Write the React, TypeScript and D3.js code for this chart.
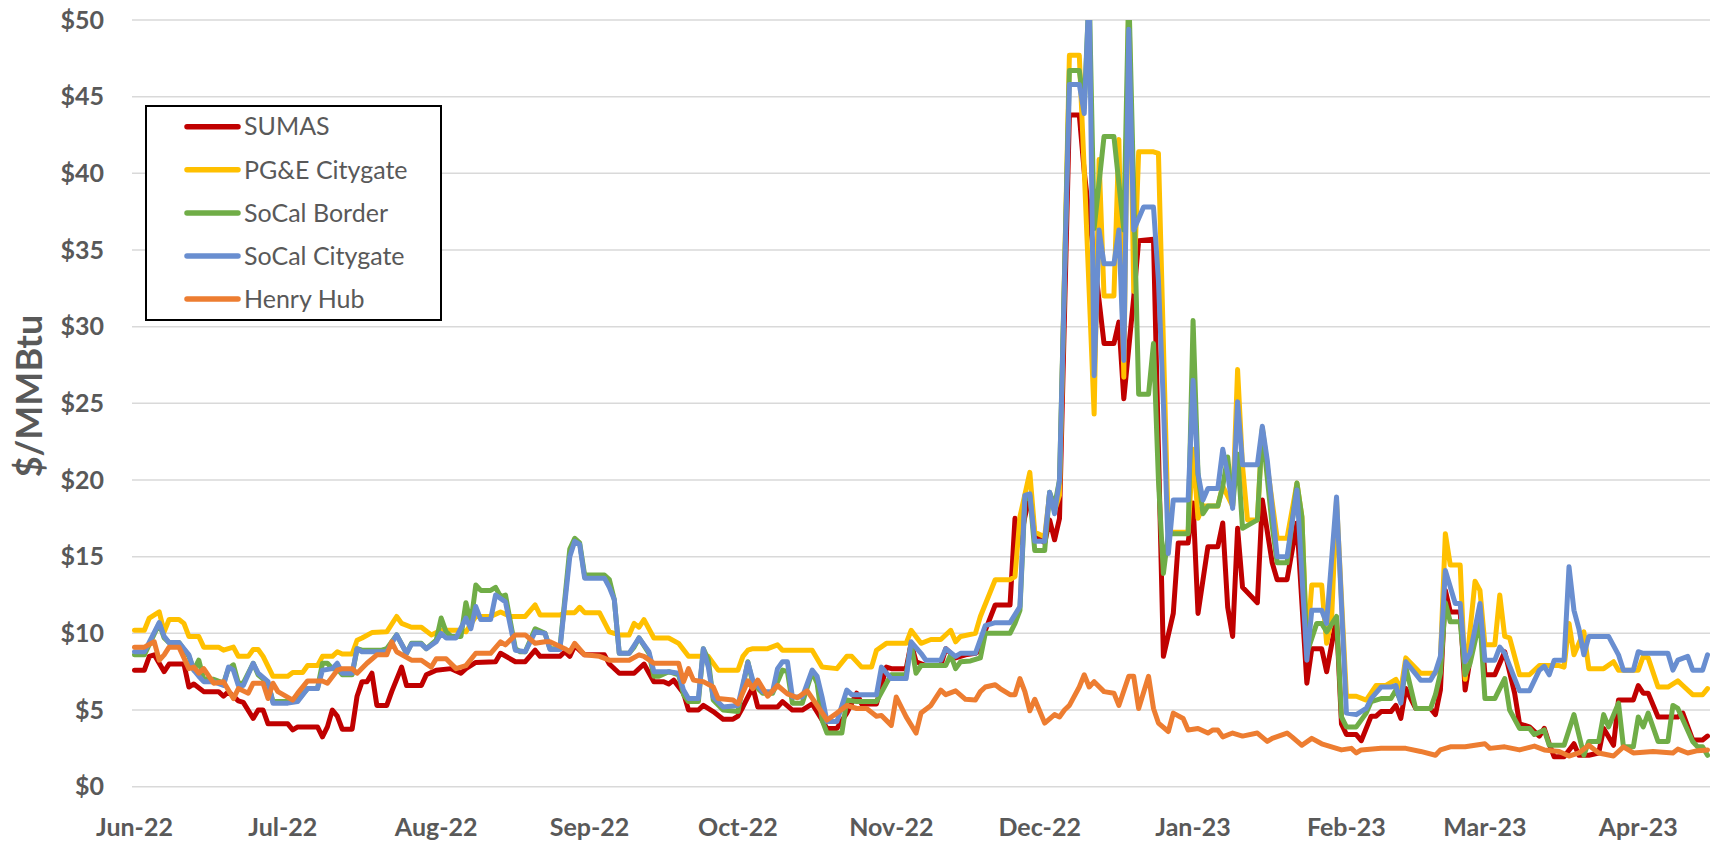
import React, { useEffect, useRef } from 'react';
import * as d3 from 'd3';

// day offset from 1 Jun 2022, $/MMBtu
const sumas: [number, number][] = [[0,7.6],[2,7.6],[3,8.5],[4,8.6],[6,7.5],[7,8.0],[10,8.0],[11,6.5],[12,6.7],[14,6.2],[17,6.2],[18,5.9],[19,6.2],[21,5.6],[22,5.5],[24,4.45],[25,5.0],[26,5.0],[27,4.1],[31,4.1],[32,3.7],[33,3.9],[37,3.9],[38,3.25],[39,3.9],[40,5.0],[41,4.6],[42,3.75],[44,3.75],[45,5.9],[46,6.85],[47,6.85],[48,7.4],[49,5.3],[51,5.3],[52,6.2],[54,7.8],[55,6.6],[58,6.6],[59,7.3],[61,7.6],[64,7.7],[66,7.4],[67,7.7],[69,8.1],[73,8.15],[74,8.7],[77,8.15],[79,8.15],[81,8.9],[82,8.5],[86,8.5],[87,8.8],[88,8.5],[89,9.2],[91,8.6],[95,8.6],[96,8.0],[98,7.4],[101,7.4],[103,8.0],[105,6.85],[107,6.85],[108,6.7],[109,6.95],[111,6.1],[112,5.0],[114,5.0],[115,5.3],[117,4.9],[119,4.4],[121,4.4],[122,4.6],[123,5.2],[125,6.5],[126,5.2],[130,5.2],[131,5.55],[133,5.0],[135,5.0],[137,5.4],[139,4.35],[140,3.8],[142,3.8],[144,4.8],[146,6.1],[147,5.4],[150,5.4],[152,7.8],[153,7.7],[156,7.7],[157,9.35],[158,8.15],[160,7.9],[163,7.9],[164,9.0],[166,8.4],[168,8.6],[170,8.7],[171,8.9],[172,10.2],[174,11.85],[177,11.85],[178,17.5],[179,15.9],[180,17.6],[181,19.0],[182,16.4],[184,15.9],[185,17.4],[186,16.1],[187,17.5],[189,43.8],[191,43.8],[192,40.1],[196,28.9],[198,28.9],[199,30.3],[200,25.3],[202,31.9],[203,35.6],[206,35.7],[207,22],[208,8.5],[210,11.3],[211,15.9],[213,15.9],[214,18.5],[215,11.3],[217,15.65],[219,15.65],[220,17.2],[221,11.7],[222,9.8],[223,16.85],[224,13.0],[227,12.0],[228,18.7],[230,14.6],[231,13.5],[233,13.5],[235,17.2],[237,6.75],[238,9.0],[240,9.0],[241,7.5],[243,11.0],[244,4.1],[245,3.4],[247,3.4],[248,3.0],[250,4.6],[251,4.6],[252,4.9],[254,4.9],[255,5.3],[256,4.45],[257,6.4],[259,5.1],[262,5.1],[263,4.7],[264,6.3],[265,12.8],[266,11.4],[268,11.4],[269,6.3],[270,8.3],[272,11.7],[273,7.3],[275,7.3],[277,8.8],[279,6.1],[280,4.1],[282,3.9],[284,3.3],[285,3.8],[286,2.8],[287,1.95],[289,1.95],[291,2.8],[292,2.05],[294,2.05],[296,2.2],[297,3.8],[299,2.7],[300,5.65],[303,5.65],[304,6.6],[305,6.1],[306,6.1],[308,4.55],[312,4.55],[313,4.8],[315,3.05],[317,3.05],[318,3.3]];

const pgeCitygate: [number, number][] = [[0,10.2],[2,10.2],[3,11.0],[5,11.4],[6,10.1],[7,10.9],[9,10.9],[10,10.65],[11,9.8],[13,9.8],[14,9.1],[17,9.1],[18,8.9],[20,9.1],[21,8.5],[23,8.5],[24,8.95],[25,8.95],[26,8.5],[28,7.2],[31,7.2],[32,7.45],[34,7.45],[35,7.9],[37,7.9],[38,8.5],[40,8.5],[41,8.8],[42,8.65],[44,8.65],[45,9.55],[46,9.7],[48,10.05],[51,10.1],[53,11.1],[54,10.65],[56,10.4],[58,10.4],[60,9.9],[62,10.2],[66,10.2],[67,10.1],[69,11.1],[72,11.1],[74,11.4],[76,11.1],[79,11.1],[81,11.85],[82,11.2],[86,11.2],[87,11.35],[89,11.35],[90,11.7],[91,11.35],[94,11.35],[96,10.1],[98,9.9],[100,9.9],[101,10.65],[102,10.4],[103,10.9],[105,9.7],[108,9.7],[110,9.35],[112,8.5],[116,8.5],[118,7.6],[122,7.6],[123,8.5],[124,8.9],[125,9.0],[128,9.0],[130,9.25],[131,8.9],[137,8.9],[139,7.8],[142,7.7],[144,8.5],[145,8.5],[147,7.8],[149,7.8],[150,8.9],[152,9.35],[156,9.35],[157,10.2],[159,9.35],[161,9.6],[163,9.6],[165,10.2],[166,9.45],[167,9.8],[170,10.0],[171,11.1],[174,13.5],[177,13.5],[178,13.7],[179,17.6],[181,20.5],[182,16.6],[184,16.3],[185,19.1],[186,18.0],[187,19.0],[189,47.7],[191,47.7],[192,40.2],[194,24.3],[195,40.9],[196,32.0],[198,32.0],[199,42.2],[200,26.7],[201,52],[202,32.3],[203,41.4],[206,41.4],[207,41.3],[209,16.6],[213,16.6],[214,22],[215,17.5],[216,18.3],[219,18.3],[220,19.6],[222,18.3],[223,27.2],[224,20.9],[225,17.4],[227,17.4],[228,23.4],[229,20.9],[231,16.2],[233,16.2],[235,19.8],[236,17.6],[237,9.1],[238,13.15],[240,13.15],[241,9.35],[242,10.9],[243,18.7],[245,5.9],[247,5.9],[249,5.65],[251,6.6],[253,6.6],[255,7.0],[256,6.3],[257,8.4],[260,7.4],[263,7.4],[264,8.3],[265,16.5],[266,14.45],[268,14.45],[269,7.0],[271,13.4],[272,12.8],[273,9.25],[275,9.25],[276,12.5],[277,9.8],[278,9.7],[280,7.3],[282,7.3],[284,7.9],[288,7.9],[289,7.8],[290,10.65],[291,8.6],[293,10.1],[294,7.7],[297,7.7],[299,8.15],[300,7.6],[304,7.6],[305,8.5],[306,8.4],[308,6.5],[310,6.5],[312,6.9],[313,6.6],[315,6.0],[317,6.0],[318,6.4]];

const socalBorder: [number, number][] = [[0,8.6],[2,8.6],[5,10.65],[6,9.7],[7,9.4],[9,9.4],[11,8.5],[12,7.6],[13,8.25],[14,7.0],[16,7.0],[18,6.75],[19,7.7],[20,7.95],[21,6.75],[22,6.75],[24,8.05],[25,7.3],[27,6.75],[28,5.55],[31,5.55],[33,5.65],[35,6.4],[37,6.4],[38,8.05],[39,8.05],[40,7.7],[41,7.7],[42,7.3],[44,7.3],[45,9.0],[46,8.9],[50,8.9],[51,9.0],[53,9.9],[55,8.7],[56,9.35],[58,9.35],[59,9.0],[61,9.55],[62,11.0],[63,10.1],[64,9.8],[66,9.8],[67,12.0],[68,10.65],[69,13.15],[70,12.8],[72,12.8],[73,13.0],[74,12.4],[75,12.5],[77,9.0],[78,8.8],[79,8.8],[81,10.3],[83,10.0],[84,9.0],[86,9.0],[88,15.5],[89,16.2],[90,15.9],[91,13.8],[95,13.8],[96,13.5],[97,12.2],[98,8.7],[100,8.7],[101,9.1],[102,9.7],[104,8.7],[105,7.2],[106,7.2],[108,7.5],[110,7.3],[111,6.0],[112,5.55],[114,5.55],[115,9.0],[116,8.3],[117,5.65],[119,5.0],[122,4.9],[124,8.15],[125,6.75],[127,6.1],[129,6.1],[131,7.6],[132,7.5],[133,5.45],[135,5.45],[137,7.5],[138,6.75],[139,4.35],[140,3.5],[143,3.5],[144,5.65],[146,5.55],[150,5.55],[152,6.75],[153,7.3],[156,7.3],[157,9.35],[158,7.4],[159,7.9],[164,7.9],[165,8.6],[166,7.7],[167,8.15],[169,8.2],[171,8.4],[172,10.0],[177,10.0],[178,10.65],[179,11.5],[180,18.7],[181,19.0],[182,15.4],[184,15.4],[185,19.2],[186,18.3],[187,20.0],[189,46.7],[191,46.7],[192,44.3],[193,52],[194,36.4],[196,42.4],[198,42.4],[200,36.3],[201,52],[203,25.6],[205,25.6],[206,28.9],[207,20.0],[208,13.9],[209,16.5],[213,16.5],[214,30.4],[215,20.4],[216,17.8],[217,18.3],[219,18.3],[220,19.6],[221,21.5],[222,18.3],[223,21.7],[224,16.85],[227,17.4],[228,23.3],[230,17.0],[231,14.6],[233,14.6],[235,19.8],[236,17.6],[237,8.7],[239,10.65],[240,10.65],[241,10.1],[243,11.1],[244,4.55],[245,3.9],[247,3.9],[249,4.8],[250,5.55],[252,5.75],[254,5.75],[255,6.3],[256,5.55],[257,7.8],[259,5.1],[262,5.1],[263,6.0],[264,7.4],[265,12.0],[266,10.75],[268,10.75],[269,7.3],[270,8.05],[272,10.9],[273,5.75],[275,5.75],[276,6.4],[277,7.05],[278,5.0],[280,3.8],[282,3.8],[283,3.4],[285,3.7],[286,2.7],[289,2.7],[291,4.7],[293,2.05],[294,2.95],[296,2.95],[297,4.7],[298,3.9],[300,5.45],[301,2.6],[303,2.6],[304,4.55],[305,3.9],[306,4.8],[308,2.95],[310,2.95],[311,5.3],[312,5.1],[315,2.95],[316,2.6],[317,2.6],[318,2.05]];

const socalCitygate: [number, number][] = [[0,8.8],[2,8.8],[5,10.7],[6,9.8],[7,9.4],[9,9.4],[11,8.6],[12,7.6],[13,7.2],[14,6.85],[16,6.85],[18,6.6],[19,7.8],[20,7.6],[21,6.6],[22,6.6],[24,8.05],[25,7.4],[27,6.85],[28,5.45],[31,5.45],[33,5.55],[35,6.4],[37,6.4],[38,7.6],[40,7.7],[41,8.05],[42,7.4],[44,7.4],[45,9.0],[46,8.8],[51,8.8],[53,9.9],[55,8.7],[56,9.3],[58,9.3],[59,9.0],[61,9.45],[62,10.0],[63,9.7],[65,9.7],[67,11.0],[68,10.3],[69,11.75],[70,10.9],[72,10.9],[73,12.5],[75,12.05],[77,8.9],[79,8.8],[81,10.1],[83,10.0],[84,8.95],[86,8.95],[88,15.0],[89,16.0],[90,15.8],[91,13.6],[95,13.6],[96,13.0],[97,12.2],[98,8.7],[100,8.7],[102,9.7],[104,8.8],[105,7.5],[108,7.5],[110,7.4],[111,6.3],[112,5.75],[114,5.75],[115,9.0],[116,7.8],[117,5.85],[119,5.2],[122,5.3],[124,8.1],[125,6.95],[127,6.2],[129,6.2],[130,7.7],[131,8.15],[132,8.15],[133,5.85],[135,5.85],[137,7.6],[138,7.2],[139,5.85],[140,4.25],[142,4.25],[144,6.3],[145,6.0],[150,6.0],[151,7.8],[153,7.05],[156,7.05],[157,9.45],[159,8.7],[160,8.25],[163,8.25],[164,9.0],[166,8.5],[167,8.7],[170,8.7],[172,10.5],[174,10.7],[177,10.7],[179,11.75],[180,19.0],[181,19.1],[182,16.0],[184,16.0],[185,19.2],[186,17.8],[187,20.0],[189,45.8],[191,45.8],[192,43.9],[193,52],[194,26.8],[195,36.3],[196,34.1],[198,34.1],[199,36.3],[200,27.8],[201,49.4],[202,36.3],[204,37.8],[206,37.8],[207,33],[208,25],[209,15.2],[210,18.7],[213,18.7],[214,26.5],[215,20.4],[216,18.7],[217,19.45],[219,19.45],[220,22.0],[221,20.4],[222,18.15],[223,25.1],[224,21.0],[227,21.0],[228,23.5],[229,21.3],[231,15.0],[233,15.0],[235,19.35],[237,8.25],[238,11.5],[240,11.5],[241,10.65],[243,18.9],[245,4.8],[247,4.7],[249,5.1],[250,5.75],[252,6.5],[254,6.5],[255,6.6],[256,5.45],[257,8.15],[260,6.95],[262,6.95],[263,7.5],[264,8.5],[265,14.1],[267,11.95],[268,11.95],[269,8.15],[270,8.7],[272,11.95],[273,8.25],[275,8.25],[276,9.1],[277,8.7],[280,6.25],[282,6.25],[284,7.6],[285,7.85],[286,7.3],[287,8.25],[289,8.25],[290,14.35],[291,11.5],[292,10.3],[293,8.6],[294,9.8],[298,9.8],[300,8.6],[301,7.6],[303,7.6],[304,8.8],[305,8.7],[310,8.7],[311,7.6],[312,8.25],[314,8.5],[315,7.6],[317,7.6],[318,8.6]];

const henryHub: [number, number][] = [[0,9.1],[2,9.1],[4,9.45],[5,8.25],[6,8.6],[7,9.1],[9,9.1],[11,7.7],[12,7.8],[13,7.4],[14,7.7],[16,6.75],[18,6.85],[20,5.75],[21,6.4],[23,6.1],[24,6.75],[26,6.75],[27,5.75],[28,6.75],[29,6.2],[32,5.65],[33,6.1],[35,6.9],[38,6.9],[39,6.75],[41,7.6],[42,7.7],[44,7.7],[45,7.4],[47,8.05],[49,8.6],[51,8.6],[52,9.45],[53,8.8],[56,8.25],[58,8.25],[60,7.8],[61,8.35],[63,8.35],[65,7.7],[67,7.9],[69,8.7],[72,8.7],[74,9.45],[75,9.25],[77,9.9],[79,9.9],[81,9.35],[83,9.45],[84,9.45],[87,9.0],[88,8.8],[89,9.35],[91,8.6],[94,8.5],[96,8.25],[100,8.25],[102,8.6],[103,8.5],[105,8.05],[110,8.05],[111,6.85],[112,7.7],[113,6.95],[115,6.85],[117,6.5],[118,5.75],[121,5.65],[122,5.4],[124,6.9],[125,6.4],[126,6.95],[128,5.9],[130,6.6],[132,6.05],[134,5.8],[136,6.25],[138,5.3],[140,4.35],[142,4.8],[144,5.3],[146,5.1],[148,5.1],[150,4.6],[151,4.65],[153,4.0],[154,5.85],[156,4.55],[158,3.5],[159,4.8],[161,5.3],[163,6.3],[164,6.0],[166,6.25],[168,5.7],[170,5.65],[171,6.2],[172,6.5],[174,6.65],[175,6.4],[177,6.0],[178,6.0],[179,7.05],[180,6.2],[181,4.95],[182,5.7],[184,4.15],[186,4.7],[187,4.55],[188,5.0],[189,5.3],[191,6.5],[192,7.3],[193,6.5],[194,6.85],[196,6.2],[198,6.1],[199,5.3],[201,7.2],[202,7.2],[203,5.1],[205,7.2],[206,5.1],[207,4.15],[209,3.6],[210,4.8],[212,4.45],[213,3.7],[215,3.8],[217,3.5],[218,3.7],[219,3.7],[220,3.25],[222,3.5],[224,3.3],[227,3.5],[229,2.95],[230,3.15],[233,3.5],[234,3.25],[236,2.7],[238,3.15],[240,2.8],[242,2.6],[244,2.4],[246,2.5],[247,2.2],[248,2.4],[252,2.5],[257,2.5],[260,2.3],[263,2.05],[264,2.4],[266,2.6],[269,2.6],[271,2.7],[273,2.8],[274,2.5],[277,2.6],[280,2.4],[283,2.65],[285,2.4],[288,2.3],[290,2.0],[292,2.2],[294,2.7],[296,2.2],[299,2.0],[301,2.6],[303,2.2],[307,2.3],[311,2.2],[312,2.45],[314,2.2],[316,2.35],[318,2.4]];

const seriesNames = ['SUMAS', 'PG&E Citygate', 'SoCal Border', 'SoCal Citygate', 'Henry Hub'];
const seriesData = [sumas, pgeCitygate, socalBorder, socalCitygate, henryHub];
const seriesColors = ['#C00000', '#FFC000', '#70AD47', '#698ED0', '#ED7D31'];
const yTicks = [0, 5, 10, 15, 20, 25, 30, 35, 40, 45, 50];

const START = Date.UTC(2022, 5, 1);
const DAY = 86400000;
const toDate = (d: number) => new Date(START + d * DAY);

const App = () => {
    const ref = useRef<SVGSVGElement | null>(null);
    const width = 1717;
    const height = 845;

    useEffect(() => {
        if (!ref.current) return;
        const svg = d3.select(ref.current);
        svg.selectAll('*').remove();

        const left = 132, right = 1710, top = 20, bottom = 786.7;
        const font = 'Lato, "Liberation Sans", Arial, sans-serif';

        const x = d3.scaleUtc().domain([toDate(-0.5), toDate(318.5)]).range([left, right]);
        const y = d3.scaleLinear().domain([0, 50]).range([bottom, top]);

        // gridlines
        svg.append('g')
            .selectAll('line')
            .data(yTicks)
            .join('line')
            .attr('x1', left).attr('x2', right)
            .attr('y1', d => y(d)).attr('y2', d => y(d))
            .attr('stroke', '#D9D9D9')
            .attr('stroke-width', 1.5);

        // y labels
        svg.append('g')
            .selectAll('text')
            .data(yTicks)
            .join('text')
            .attr('x', 104)
            .attr('y', d => y(d))
            .attr('dy', '0.35em')
            .attr('text-anchor', 'end')
            .attr('font-family', font)
            .attr('font-weight', 'bold')
            .attr('font-size', 25)
            .attr('fill', '#595959')
            .text(d => '$' + d);

        // x labels
        const months = d3.utcMonth.range(toDate(0), toDate(319));
        svg.append('g')
            .selectAll('text')
            .data(months)
            .join('text')
            .attr('x', d => x(d))
            .attr('y', 836)
            .attr('text-anchor', 'middle')
            .attr('font-family', font)
            .attr('font-weight', 'bold')
            .attr('font-size', 25)
            .attr('fill', '#595959')
            .text(d => d3.utcFormat('%b-%y')(d));

        // y title
        svg.append('text')
            .attr('transform', 'translate(42,396) rotate(-90)')
            .attr('text-anchor', 'middle')
            .attr('font-family', font)
            .attr('font-weight', 'bold')
            .attr('font-size', 36)
            .attr('fill', '#595959')
            .text('$/MMBtu');

        svg.append('clipPath').attr('id', 'plot-clip')
            .append('rect')
            .attr('x', left).attr('y', top)
            .attr('width', right - left).attr('height', bottom - top + 10);

        const line = d3.line<[number, number]>()
            .x(d => x(toDate(d[0])))
            .y(d => y(d[1]));

        svg.append('g')
            .attr('clip-path', 'url(#plot-clip)')
            .selectAll('path')
            .data(seriesData)
            .join('path')
            .attr('d', d => line(d))
            .attr('fill', 'none')
            .attr('stroke', (d, i) => seriesColors[i])
            .attr('stroke-width', 5)
            .attr('stroke-linejoin', 'round')
            .attr('stroke-linecap', 'round');

        // legend
        const lg = svg.append('g');
        lg.append('rect')
            .attr('x', 146).attr('y', 106)
            .attr('width', 295).attr('height', 214)
            .attr('fill', 'white')
            .attr('stroke', 'black')
            .attr('stroke-width', 2);
        const items = lg.selectAll('g.item')
            .data(seriesNames)
            .join('g')
            .attr('class', 'item')
            .attr('transform', (d, i) => `translate(0,${126.7 + i * 43.1})`);
        items.append('line')
            .attr('x1', 187).attr('x2', 238)
            .attr('stroke', (d, i) => seriesColors[i])
            .attr('stroke-width', 5.5)
            .attr('stroke-linecap', 'round');
        items.append('text')
            .attr('x', 244)
            .attr('dy', '0.35em')
            .attr('font-family', font)
            .attr('font-size', 25)
            .attr('fill', '#595959')
            .text(d => d);
    }, []);

    return (
        <svg ref={ref} width={width} height={height}
            style={{ position: 'absolute', left: 0, top: 0, background: 'white' }} />
    );
};

export default App;
